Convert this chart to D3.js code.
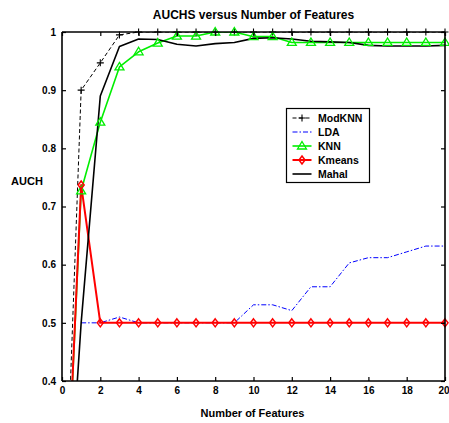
<!DOCTYPE html>
<html>
<head>
<meta charset="utf-8">
<script src="https://cdn.jsdelivr.net/npm/d3@7"></script>
<style>
  html, body { margin: 0; padding: 0; background: #fff; }
  svg { display: block; font-family: "Liberation Sans", Arial, sans-serif; }
</style>
</head>
<body>
<svg id="chart" width="449" height="423"></svg>
<script>
// ---- data ----
const features = [0,1,2,3,4,5,6,7,8,9,10,11,12,13,14,15,16,17,18,19,20];
const modKNN = [0,0.900,0.947,0.995,1,1,1,1,1,1,1,1,1,1,1,1,1,1,1,1,1];
const lda    = [null,0.500,0.500,0.510,0.500,0.500,0.500,0.500,0.500,0.500,0.531,0.531,0.521,0.562,0.562,0.603,0.612,0.612,0.622,0.632,0.632];
const knn    = [0,0.727,0.845,0.940,0.966,0.981,0.993,0.993,1.0,1.0,0.992,0.992,0.982,0.982,0.982,0.982,0.982,0.982,0.982,0.982,0.982];
const kmeans = [0,0.737,0.5,0.5,0.5,0.5,0.5,0.5,0.5,0.5,0.5,0.5,0.5,0.5,0.5,0.5,0.5,0.5,0.5,0.5,0.5];
const mahal  = [0,0.500,0.890,0.975,0.988,0.987,0.979,0.976,0.980,0.982,0.989,0.990,0.988,0.984,0.983,0.982,0.977,0.976,0.976,0.976,0.977];
const seriesNames = ["ModKNN","LDA","KNN","Kmeans","Mahal"];
const xTicks = [0,2,4,6,8,10,12,14,16,18,20];
const yTicks = [0.4,0.5,0.6,0.7,0.8,0.9,1];
const titleText = "AUCHS versus Number of Features";
const xLabel = "Number of Features";
const yLabel = "AUCH";

// ---- styles ----
const styles = {
  ModKNN: {values: modKNN, color: "#000", width: 1, dash: "4,2.5", marker: "plus"},
  LDA:    {values: lda,    color: "#0000ff", width: 1, dash: "5,2,1.5,2", marker: null},
  KNN:    {values: knn,    color: "#00ee00", width: 1.6, dash: null, marker: "triangle"},
  Kmeans: {values: kmeans, color: "#ff0000", width: 2, dash: null, marker: "diamond"},
  Mahal:  {values: mahal,  color: "#000", width: 1.6, dash: null, marker: null}
};

const svg = d3.select("#chart");
const L = 62, R = 445, T = 32, B = 381;
const x = d3.scaleLinear().domain([0,20]).range([L,R]);
const y = d3.scaleLinear().domain([0.4,1]).range([B,T]);

svg.append("defs").append("clipPath").attr("id","clip")
  .append("rect").attr("x",L).attr("y",T).attr("width",R-L).attr("height",B-T);

// lines
const line = d3.line().defined(d => d[1] != null).x(d => x(d[0])).y(d => y(d[1]));
const drawOrder = ["ModKNN","LDA","KNN","Kmeans","Mahal"];
const gLines = svg.append("g").attr("clip-path","url(#clip)");
drawOrder.forEach(name => {
  const s = styles[name];
  const pts = features.map((f,i) => [f, s.values[i]]);
  gLines.append("path").attr("d", line(pts))
    .attr("fill","none").attr("stroke", s.color).attr("stroke-width", s.width)
    .attr("stroke-dasharray", s.dash).attr("stroke-linejoin","round");
});

function marker(g, type, cx, cy, color) {
  if (type === "plus") {
    g.append("path").attr("d", `M${cx-3.5},${cy}H${cx+3.5}M${cx},${cy-3.5}V${cy+3.5}`)
      .attr("stroke", color).attr("stroke-width", 1.1).attr("fill","none");
  } else if (type === "triangle") {
    g.append("path").attr("d", `M${cx},${cy-4.5}L${cx+4.5},${cy+3}L${cx-4.5},${cy+3}Z`)
      .attr("stroke", color).attr("stroke-width", 1.3).attr("fill","none");
  } else if (type === "diamond") {
    g.append("path").attr("d", `M${cx},${cy-4}L${cx+3},${cy}L${cx},${cy+4}L${cx-3},${cy}Z`)
      .attr("stroke", color).attr("stroke-width", 1.5).attr("fill","none");
  }
}
const gMarks = svg.append("g");
drawOrder.forEach(name => {
  const s = styles[name];
  if (!s.marker) return;
  features.forEach((f,i) => {
    const v = s.values[i];
    if (v == null || v < 0.4) return;
    marker(gMarks, s.marker, x(f), y(v), s.color);
  });
});

// axes (box with inward ticks)
const fmtY = d => d === 1 ? "1" : d3.format(".1f")(d);
const axB = svg.append("g").attr("transform",`translate(0,${B})`)
  .call(d3.axisBottom(x).tickValues(xTicks).tickSize(-4).tickPadding(6).tickFormat(d3.format("d")));
const axT = svg.append("g").attr("transform",`translate(0,${T})`)
  .call(d3.axisTop(x).tickValues(xTicks).tickSize(-4).tickFormat(""));
const axL = svg.append("g").attr("transform",`translate(${L},0)`)
  .call(d3.axisLeft(y).tickValues(yTicks).tickSize(-4).tickPadding(6).tickFormat(fmtY));
const axR = svg.append("g").attr("transform",`translate(${R},0)`)
  .call(d3.axisRight(y).tickValues(yTicks).tickSize(-4).tickFormat(""));
[axB,axT,axL,axR].forEach(a => {
  a.select(".domain").attr("stroke","#000").attr("stroke-width",1.6);
  a.selectAll(".tick line").attr("stroke","#000").attr("stroke-width",1.2);
  a.selectAll("text").attr("font-size",10).attr("font-weight","bold").attr("fill","#000")
    .attr("font-family",'"Liberation Sans", Arial, sans-serif');
});
// keep the last x label inside the window
axB.selectAll(".tick text").filter(d => d === 20).attr("text-anchor","end").attr("dx", 4);
axB.selectAll(".domain").attr("d", `M${L},0H${R}`);
axT.selectAll(".domain").attr("d", `M${L},0H${R}`);
axL.selectAll(".domain").attr("d", `M0,${B}V${T}`);
axR.selectAll(".domain").attr("d", `M0,${B}V${T}`);

// titles
svg.append("text").attr("x",(L+R)/2).attr("y",19).attr("text-anchor","middle")
  .attr("font-size",12).attr("font-weight","bold").text(titleText);
svg.append("text").attr("x",(L+R)/2 - 1).attr("y",417).attr("text-anchor","middle")
  .attr("font-size",11).attr("font-weight","bold").text(xLabel);
svg.append("text").attr("x",27).attr("y",185).attr("text-anchor","middle")
  .attr("font-size",11).attr("font-weight","bold").text(yLabel);

// legend
const lg = svg.append("g");
lg.append("rect").attr("x",286.5).attr("y",108.5).attr("width",83).attr("height",74)
  .attr("fill","#fff").attr("stroke","#000").attr("stroke-width",1.2);
seriesNames.forEach((name,i) => {
  const s = styles[name];
  const yy = 118 + i*14;
  lg.append("line").attr("x1",292.5).attr("x2",311.5).attr("y1",yy).attr("y2",yy)
    .attr("stroke",s.color).attr("stroke-width",s.width).attr("stroke-dasharray",s.dash);
  if (s.marker) marker(lg, s.marker, 302, yy, s.color);
  lg.append("text").attr("x",318).attr("y",yy+4).attr("font-size",10.5)
    .attr("font-weight","bold").text(name);
});
</script>
</body>
</html>
